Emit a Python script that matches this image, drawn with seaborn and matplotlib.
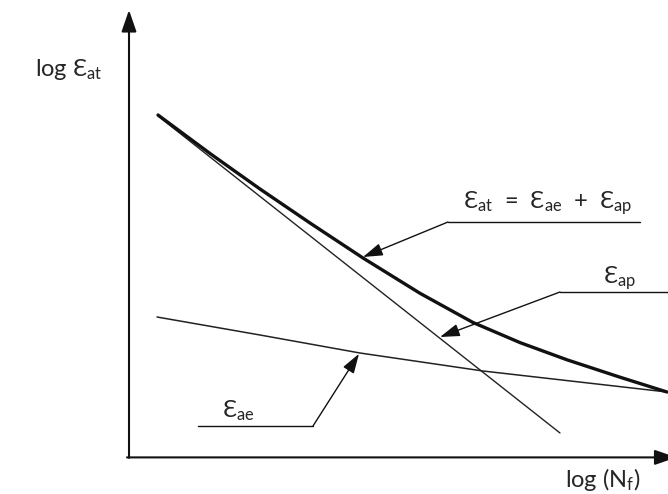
import matplotlib
matplotlib.use("Agg")
import matplotlib.pyplot as plt
import seaborn as sns
import pandas as pd

# ---- data (log N_f, log strain) in arbitrary log units ----
plastic_x = [0.58, 8.62]
plastic_y = [8.525, 0.60]

elastic_x = [0.56, 2.62, 4.62, 7.08, 10.76]
elastic_y = [3.50, 3.05, 2.60, 2.15, 1.625]

total_x = [0.58, 1.62, 2.62, 3.62, 4.68, 5.82, 6.88, 7.82, 8.76, 9.82, 10.76]
total_y = [8.55, 7.5875, 6.70, 5.85, 4.975, 4.0925, 3.3625, 2.86, 2.43, 1.995, 1.625]

x_axis_label = "log (N$_{\\mathrm{f}}$)"
y_axis_label = "log Ɛ$_{\\mathrm{at}}$"
label_total = "Ɛ$_{\\mathrm{at}}$  =  Ɛ$_{\\mathrm{ae}}$  +  Ɛ$_{\\mathrm{ap}}$"
label_plastic = "Ɛ$_{\\mathrm{ap}}$"
label_elastic = "Ɛ$_{\\mathrm{ae}}$"

sns.set_theme(style="white")
plt.rcParams["font.family"] = ["Lato", "DejaVu Sans"]
plt.rcParams["mathtext.fontset"] = "custom"
plt.rcParams["mathtext.rm"] = "Lato"
plt.rcParams["mathtext.it"] = "Lato:italic"
plt.rcParams["mathtext.bf"] = "Lato:bold"

fig = plt.figure(figsize=(6.68, 4.94), dpi=100)
ax = fig.add_axes([0, 0, 1, 1])
ax.set_xlim(-2.58, 10.78)
ax.set_ylim(-0.925, 11.425)

df_p = pd.DataFrame({"x": plastic_x, "y": plastic_y})
df_e = pd.DataFrame({"x": elastic_x, "y": elastic_y})
df_t = pd.DataFrame({"x": total_x, "y": total_y})

sns.lineplot(data=df_p, x="x", y="y", ax=ax, color="#222222", lw=1.0, sort=False, estimator=None)
sns.lineplot(data=df_e, x="x", y="y", ax=ax, color="#222222", lw=1.1, sort=False, estimator=None)
sns.lineplot(data=df_t, x="x", y="y", ax=ax, color="#111111", lw=2.4, sort=False, estimator=None,
             solid_joinstyle="round", solid_capstyle="round")

# axes with arrows
axis_arrow = dict(arrowstyle="-|>,head_length=1.1,head_width=0.38", lw=1.5,
                  color="#111111", shrinkA=0, shrinkB=0)
ax.annotate("", xy=(0, 11.175), xytext=(0, -0.02), arrowprops=axis_arrow)
ax.annotate("", xy=(10.95, -0.01), xytext=(-0.04, -0.01), arrowprops=axis_arrow,
            annotation_clip=False)

# leader lines with arrows
lead_arrow = dict(arrowstyle="-|>,head_length=1.0,head_width=0.32", lw=1.0,
                  color="#111111", shrinkA=0, shrinkB=0)
# total
ax.plot([10.22, 6.38], [5.875, 5.875], color="#111111", lw=1.0)
ax.annotate("", xy=(4.68, 5.0), xytext=(6.38, 5.875), arrowprops=lead_arrow)
# plastic
ax.plot([10.85, 8.62], [4.125, 4.125], color="#111111", lw=1.0)
ax.annotate("", xy=(6.22, 3.0), xytext=(8.62, 4.125), arrowprops=lead_arrow)
# elastic
ax.plot([1.38, 3.68], [0.775, 0.775], color="#111111", lw=1.0)
ax.annotate("", xy=(4.60, 2.58), xytext=(3.68, 0.775), arrowprops=lead_arrow)

tc = "#262626"
fs = 17
ax.text(-1.88, 9.525, y_axis_label, fontsize=fs, color=tc, va="baseline", ha="left")
ax.text(8.72, -0.75, x_axis_label, fontsize=fs, color=tc, va="baseline", ha="left")
ax.text(6.68, 6.225, label_total, fontsize=fs, color=tc, va="baseline", ha="left")
ax.text(9.48, 4.35, label_plastic, fontsize=fs, color=tc, va="baseline", ha="left")
ax.text(1.86, 1.0, label_elastic, fontsize=fs, color=tc, va="baseline", ha="left")

ax.set_axis_off()
fig.savefig("out.png", dpi=100, facecolor="white")
